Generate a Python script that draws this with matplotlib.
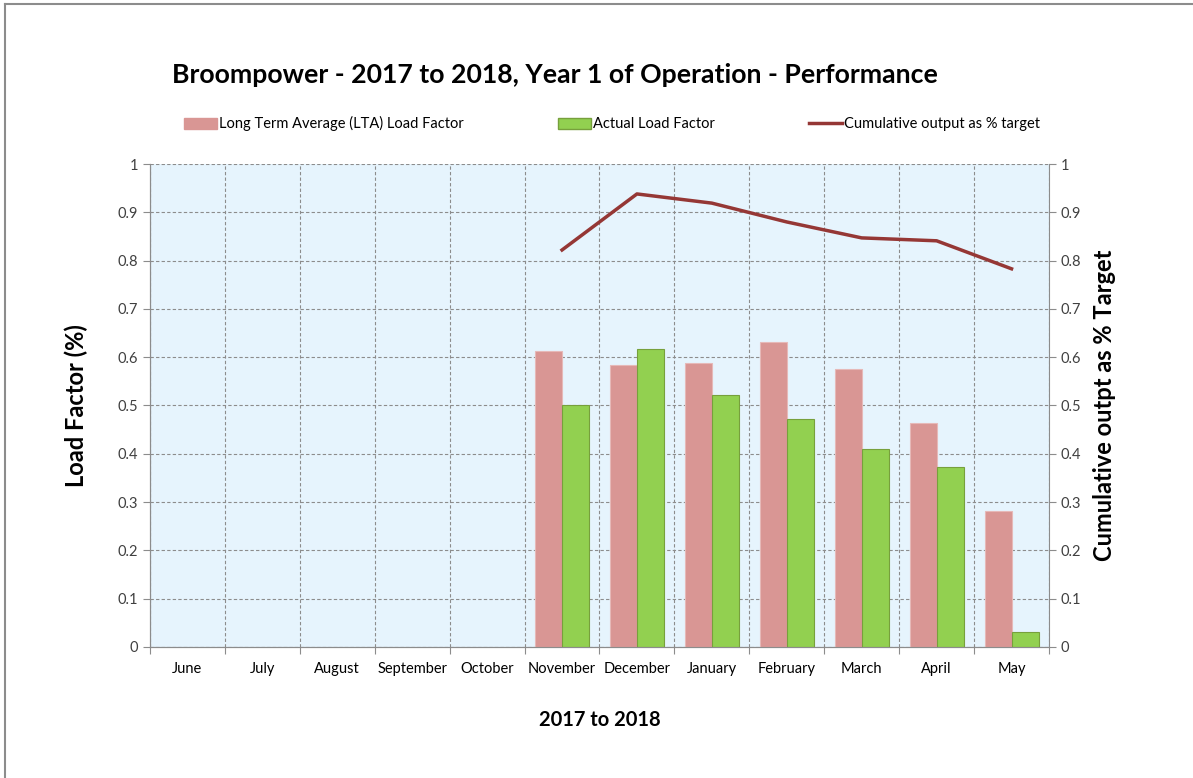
import numpy as np
import matplotlib.pyplot as plt
from matplotlib.lines import Line2D

plt.rcParams['font.family'] = ['Lato', 'DejaVu Sans']

months = ['June', 'July', 'August', 'September', 'October', 'November',
          'December', 'January', 'February', 'March', 'April', 'May']
lta = [np.nan, np.nan, np.nan, np.nan, np.nan, 0.613, 0.584, 0.589, 0.632, 0.576, 0.464, 0.282]
actual = [np.nan, np.nan, np.nan, np.nan, np.nan, 0.502, 0.616, 0.521, 0.473, 0.409, 0.373, 0.031]
cumulative = [np.nan, np.nan, np.nan, np.nan, np.nan, 0.822, 0.938, 0.919, 0.880, 0.847, 0.841, 0.783]

fig = plt.figure(figsize=(11.93, 7.78), dpi=100)
ax = fig.add_axes([0.1257, 0.1684, 0.7536, 0.6208])
ax2 = ax.twinx()

x = np.arange(len(months))
w = 0.36
ax.set_facecolor('#E6F4FD')
ax.bar(x - w / 2, lta, w, color='#D99694', edgecolor='#E6B9B8', lw=0.8, zorder=3)
ax.bar(x + w / 2, actual, w, color='#92D050', edgecolor='#77A03C', lw=0.8, zorder=3)
ax2.plot(x, cumulative, color='#953735', lw=2.5, zorder=4)

for a in (ax, ax2):
    a.set_ylim(0, 1)
    a.set_yticks(np.arange(0, 1.01, 0.1))
    a.set_yticklabels(['0'] + ['%.1f' % v for v in np.arange(0.1, 0.95, 0.1)] + ['1'])
    a.tick_params(axis='y', labelsize=10.5, colors='#404040', length=5, width=0.8)
    a.tick_params(axis='y', color='#8C8C8C')
    for s in a.spines.values():
        s.set_color('#8C8C8C')
    a.spines['top'].set_visible(False)
ax.spines['right'].set_visible(False)

ax.set_xlim(-0.5, len(months) - 0.5)
ax.set_xticks(np.arange(-0.5, len(months), 1.0))
ax.set_xticklabels([])
ax.set_xticks(x, minor=True)
ax.set_xticklabels(months, minor=True)
ax.tick_params(axis='x', which='major', length=5, color='#8C8C8C')
ax.tick_params(axis='x', which='minor', length=0, pad=11, labelsize=10.5, colors='#000000')
ax.grid(True, which='major', color='#8C8C8C', ls=(0, (3, 2)), lw=0.8)
ax.set_axisbelow(True)

ax.set_ylabel('Load Factor (%)', fontsize=17, fontweight='bold', labelpad=21)
ax2.set_ylabel('Cumulative outpt as % Target', fontsize=17, fontweight='bold', labelpad=8)
ax.set_xlabel('2017 to 2018', fontsize=14.5, fontweight='bold', labelpad=24)

fig.text(0.465, 0.903, 'Broompower - 2017 to 2018, Year 1 of Operation - Performance',
         fontsize=19.2, fontweight='bold', ha='center', va='center')

handles = [plt.Rectangle((0, 0), 1, 1, color='#D99694'),
           plt.Rectangle((0, 0), 1, 1, color='#92D050', ec='#77A03C'),
           Line2D([0], [0], color='#953735', lw=2.5)]
labels = ['Long Term Average (LTA) Load Factor', 'Actual Load Factor',
          'Cumulative output as % target']
fig.legend(handles, labels, loc='center', bbox_to_anchor=(0.513, 0.841), ncol=3,
           frameon=False, fontsize=10.5, handlelength=2.3, handleheight=0.8,
           handletextpad=0.15, columnspacing=6.4)

# outer chart frame (left and top visible)
fig.add_artist(Line2D([0.0045, 0.0045], [0, 0.995], color='#8C8C8C', lw=1.5))
fig.add_artist(Line2D([0.0045, 1], [0.995, 0.995], color='#8C8C8C', lw=1.5))

fig.savefig('out.png', dpi=100)
